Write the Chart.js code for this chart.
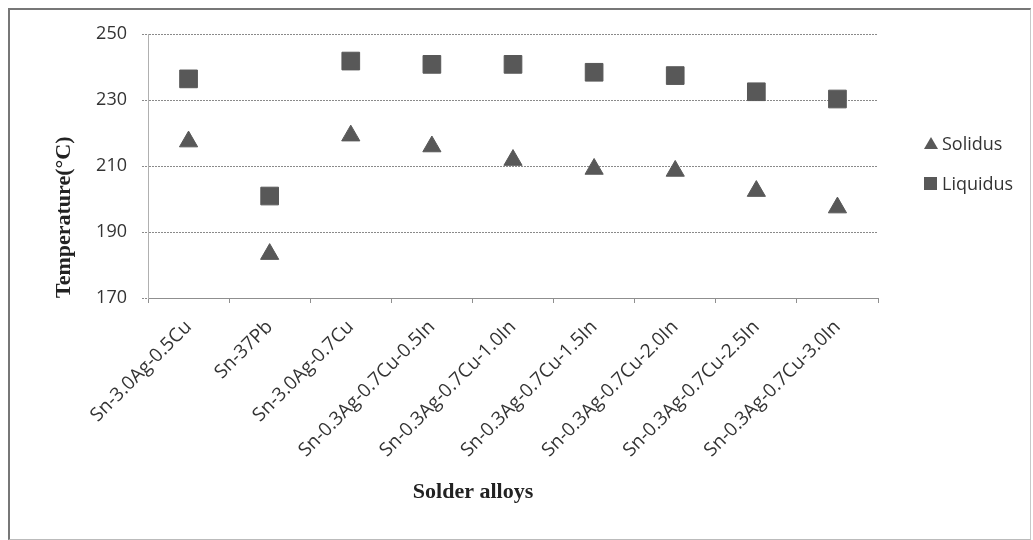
<!DOCTYPE html>
<html>
<head>
<meta charset="utf-8">
<script src="https://cdn.jsdelivr.net/npm/chart.js@4"></script>
<style>
  html, body { margin: 0; padding: 0; background: #fff; }
  #wrap { position: relative; width: 1033px; height: 540px; }
  #frame {
    position: absolute; left: 8px; top: 8px; width: 1020px; height: 529px;
    border-left: 2px solid #777; border-top: 2px solid #777;
    border-right: 1px solid #c8c8c8; border-bottom: 1px solid #bbb;
    pointer-events: none;
  }
  #legend {
    position: absolute; left: 924px; top: 130px;
    font: 18px "Open Sans", sans-serif; color: #333;
  }
  .item { display: flex; align-items: center; height: 26px; margin-bottom: 14px; }
  .mark { width: 13px; height: 13px; margin-right: 5px; }
  .tri {
    width: 0; height: 0; border-left: 7px solid transparent; border-right: 7px solid transparent;
    border-bottom: 12px solid #585858; margin-right: 4px;
  }
</style>
</head>
<body>
<div id="wrap">
  <canvas id="chart" width="1033" height="540"></canvas>
  <div id="frame"></div>
  <div id="legend"></div>
</div>
<script>
const alloys = [
  'Sn-3.0Ag-0.5Cu',
  'Sn-37Pb',
  'Sn-3.0Ag-0.7Cu',
  'Sn-0.3Ag-0.7Cu-0.5In',
  'Sn-0.3Ag-0.7Cu-1.0In',
  'Sn-0.3Ag-0.7Cu-1.5In',
  'Sn-0.3Ag-0.7Cu-2.0In',
  'Sn-0.3Ag-0.7Cu-2.5In',
  'Sn-0.3Ag-0.7Cu-3.0In'
];
const solidus = [217.4, 183.3, 219.2, 215.9, 211.8, 209.1, 208.5, 202.4, 197.4];
const liquidus = [236.4, 200.9, 241.8, 240.8, 240.8, 238.4, 237.4, 232.5, 230.3];
const yTicks = [170, 190, 210, 230, 250];

const markColor = '#585858';
const gridColor = '#8f8f8f';

// axis titles sit where the original put them, not centred on the plot
const axisTitles = {
  id: 'axisTitles',
  afterDraw(chart) {
    const { ctx, chartArea } = chart;
    ctx.save();
    ctx.fillStyle = '#222';
    ctx.font = 'bold 22px "Liberation Serif", "Times New Roman", serif';
    ctx.textAlign = 'center';
    ctx.textBaseline = 'middle';
    ctx.fillText('Solder alloys', chartArea.left + 325, 492);

    ctx.translate(64, chartArea.bottom);
    ctx.rotate(-Math.PI / 2);
    ctx.textAlign = 'left';
    ctx.fillText('Temperature(°C)', 0, 0);
    ctx.restore();
  }
};

const chart = new Chart(document.getElementById('chart'), {
  type: 'line',
  data: {
    labels: alloys,
    datasets: [
      {
        label: 'Solidus',
        data: solidus,
        showLine: false,
        pointStyle: 'triangle',
        pointRadius: 10.5,
        pointBackgroundColor: markColor,
        pointBorderColor: markColor,
        pointBorderWidth: 1
      },
      {
        label: 'Liquidus',
        data: liquidus,
        showLine: false,
        pointStyle: 'rect',
        pointRadius: 12.5,
        pointBackgroundColor: markColor,
        pointBorderColor: markColor,
        pointBorderWidth: 1
      }
    ]
  },
  options: {
    responsive: false,
    animation: false,
    layout: { padding: { left: 10, right: 155, top: 34, bottom: 0 } },
    plugins: { legend: { display: false }, tooltip: { enabled: false } },
    scales: {
      x: {
        offset: true,
        grid: { offset: true, drawOnChartArea: false, drawTicks: true, tickLength: 5, color: gridColor },
        border: { color: gridColor },
        ticks: {
          autoSkip: false,
          maxRotation: 45,
          minRotation: 45,
          padding: 13,
          color: '#333',
          font: { family: '"Open Sans", sans-serif', size: 19 }
        },
        afterFit(scale) { scale.height = 242; }
      },
      y: {
        min: 170,
        max: 250,
        afterBuildTicks(scale) { scale.ticks = yTicks.map((v) => ({ value: v })); },
        grid: { color: '#8a8a8a', tickLength: 6, tickColor: '#8a8a8a', tickBorderDash: [2, 1] },
        border: { color: '#b0b0b0', dash: [2, 1] },
        ticks: {
          padding: 15,
          color: '#333',
          font: { family: '"Open Sans", sans-serif', size: 18 }
        },
        afterFit(scale) { scale.width = 138; }
      }
    }
  },
  plugins: [axisTitles]
});

function renderLegend() {
  const legend = document.getElementById('legend');
  legend.innerHTML = chart.data.datasets
    .map((d) => {
      const mark = d.pointStyle === 'triangle'
        ? '<span class="tri"></span>'
        : `<span class="mark" style="background:${markColor}"></span>`;
      return `<div class="item">${mark}<span>${d.label}</span></div>`;
    })
    .join('');
}
renderLegend();
</script>
</body>
</html>
